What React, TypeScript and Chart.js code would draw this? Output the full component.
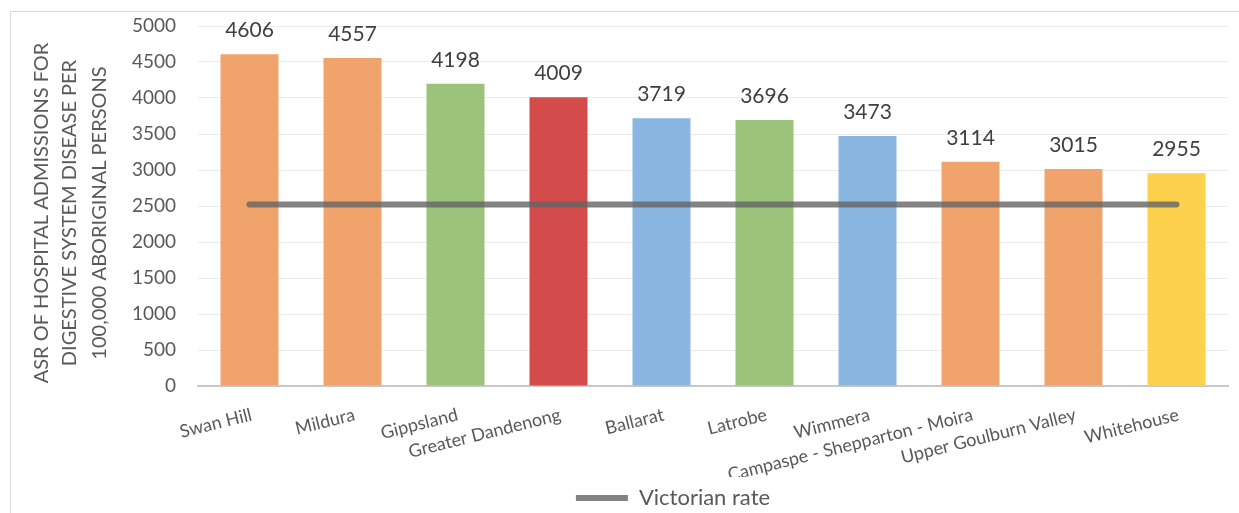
import React, { useEffect, useRef } from 'react';
import { Chart, registerables } from 'chart.js';

Chart.register(...registerables);

const categories = [
  'Swan Hill',
  'Mildura',
  'Gippsland',
  'Greater Dandenong',
  'Ballarat',
  'Latrobe',
  'Wimmera',
  'Campaspe - Shepparton - Moira',
  'Upper Goulburn Valley',
  'Whitehouse',
];
const asrValues = [4606, 4557, 4198, 4009, 3719, 3696, 3473, 3114, 3015, 2955];
const victorianRate = [2521, 2521, 2521, 2521, 2521, 2521, 2521, 2521, 2521, 2521];
const barColors = [
  '#F0A46C', '#F0A46C', '#9BC47A', '#D44B4C', '#8AB7E1',
  '#9BC47A', '#8AB7E1', '#F0A46C', '#F0A46C', '#FED14C',
];
const yTitleLines = ['ASR OF HOSPITAL ADMISSIONS FOR', 'DIGESTIVE SYSTEM DISEASE PER', '100,000 ABORIGINAL PERSONS'];
const lineLabel = 'Victorian rate';

const FONT = 'Lato, "Open Sans", sans-serif';

const yTitlePlugin = {
  id: 'yTitle',
  afterDraw(chart: any) {
    const { ctx, chartArea } = chart;
    const yScale = chart.scales.y;
    ctx.save();
    ctx.fillStyle = '#595959';
    ctx.font = `20px ${FONT}`;
    ctx.textAlign = 'center';
    ctx.textBaseline = 'middle';
    const cy = (chartArea.top + chartArea.bottom) / 2 + 7;
    const offsets = [31, 59, 89];
    yTitleLines.forEach((line, i) => {
      ctx.save();
      ctx.translate(yScale.left + offsets[i], cy);
      ctx.rotate(-Math.PI / 2);
      ctx.fillText(line, 0, 0);
      ctx.restore();
    });
    ctx.restore();
  },
};

const dataLabelPlugin = {
  id: 'barValueLabels',
  afterDatasetsDraw(chart: any) {
    const { ctx } = chart;
    const meta = chart.getDatasetMeta(1);
    const data = chart.data.datasets[1].data;
    ctx.save();
    ctx.fillStyle = '#404040';
    ctx.font = `21px ${FONT}`;
    ctx.textAlign = 'center';
    ctx.textBaseline = 'alphabetic';
    meta.data.forEach((bar: any, i: number) => {
      ctx.fillText(String(data[i]), bar.x, bar.y - 17);
    });
    ctx.restore();
  },
};

export default function App() {
  const canvasRef = useRef<HTMLCanvasElement | null>(null);

  useEffect(() => {
    const canvas = canvasRef.current;
    if (!canvas) return;
    const chart = new Chart(canvas, {
      type: 'bar',
      data: {
        labels: categories,
        datasets: [
          {
            type: 'line',
            label: lineLabel,
            data: victorianRate,
            borderColor: 'rgba(100,100,100,0.8)',
            backgroundColor: 'rgba(100,100,100,0.8)',
            borderWidth: 6,
            borderCapStyle: 'round',
            pointRadius: 0,
            pointHoverRadius: 0,
            fill: false,
            order: 0,
          } as any,
          {
            type: 'bar',
            label: 'ASR',
            data: asrValues,
            backgroundColor: barColors,
            borderWidth: 0,
            barPercentage: 0.563,
            categoryPercentage: 1,
            order: 1,
          } as any,
        ],
      },
      options: {
        responsive: false,
        animation: false,
        devicePixelRatio: 1,
        layout: { padding: { top: 14, left: 0, right: 0, bottom: 0 } },
        scales: {
          x: {
            grid: { display: false },
            border: { display: true, color: '#c8c8c8', width: 2 },
            ticks: {
              autoSkip: false,
              minRotation: 14,
              maxRotation: 14,
              labelOffset: 2,
              padding: 10,
              color: '#595959',
              font: { family: FONT, size: 18 },
            },
            afterFit(scale: any) {
              scale.height = 91;
            },
          },
          y: {
            min: 0,
            max: 5000,
            ticks: {
              stepSize: 500,
              padding: 0,
              color: '#595959',
              font: { family: FONT, size: 19 },
              callback: (v: any) => String(v),
            },
            grid: { color: '#ebebeb', lineWidth: 1, drawTicks: true, tickLength: 22, tickColor: 'rgba(0,0,0,0)' },
            border: { display: false },
            afterFit(scale: any) {
              scale.width = 187;
            },
          },
          yRight: {
            type: 'linear',
            axis: 'y',
            position: 'right',
            display: true,
            grid: { display: false, drawTicks: false },
            border: { display: false },
            ticks: { display: false },
            afterFit(scale: any) {
              scale.width = 107;
            },
          },
        },
        plugins: {
          legend: {
            display: true,
            position: 'bottom',
            labels: {
              filter: (item: any) => item.datasetIndex === 0,
              usePointStyle: true,
              pointStyle: 'line',
              pointStyleWidth: 52,
              padding: 10,
              color: '#595959',
              font: { family: FONT, size: 22 },
            },
          },
          tooltip: { enabled: false },
          title: { display: false },
        },
      } as any,
      plugins: [yTitlePlugin, dataLabelPlugin],
    });
    return () => chart.destroy();
  }, []);

  return (
    <div
      style={{
        position: 'fixed',
        left: 0,
        top: 0,
        width: 1239,
        height: 513,
        overflow: 'hidden',
        background: '#ffffff',
      }}
    >
      <div
        style={{
          position: 'absolute',
          left: 10,
          top: 11,
          width: 1330,
          height: 520,
          border: '1px solid #d9d9d9',
          background: '#ffffff',
        }}
      >
        <canvas
          ref={canvasRef}
          width={1324}
          height={507}
          style={{ position: 'absolute', left: 0, top: 0, width: 1324, height: 507 }}
        />
      </div>
    </div>
  );
}
